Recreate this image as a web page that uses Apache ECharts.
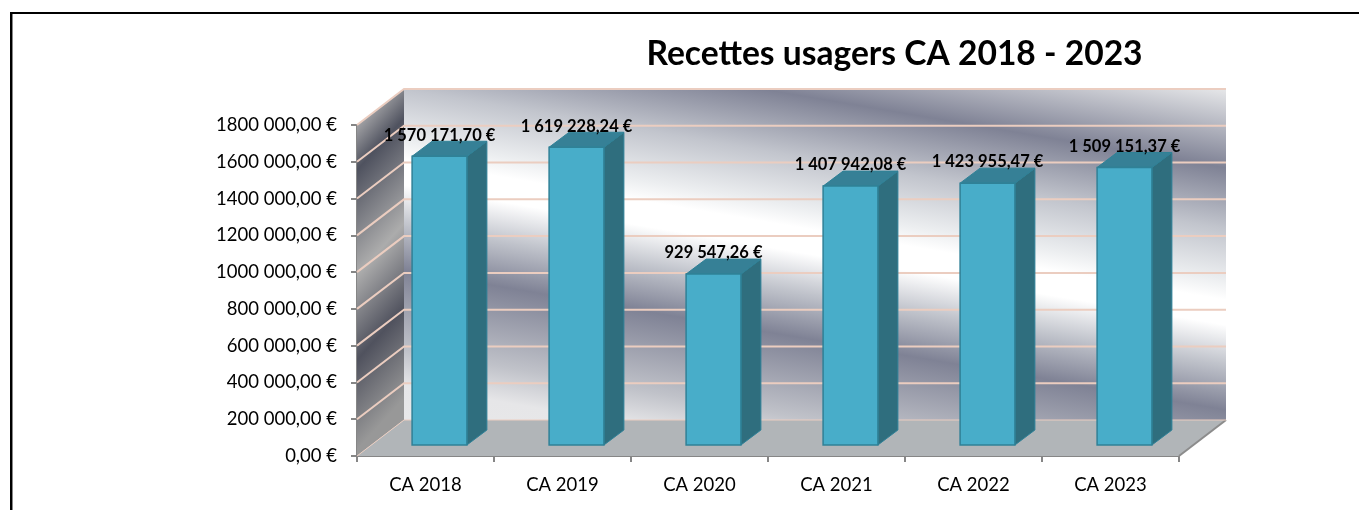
<!DOCTYPE html>
<html>
<head>
<meta charset="utf-8">
<title>Recettes usagers CA 2018 - 2023</title>
<script src="https://cdn.jsdelivr.net/npm/echarts@6/dist/echarts.min.js"></script>
<style>
html, body { margin: 0; padding: 0; background: #fff; }
#chart { width: 1359px; height: 510px; }
</style>
</head>
<body>
<div id="chart"></div>
<script>
const categories = ['CA 2018', 'CA 2019', 'CA 2020', 'CA 2021', 'CA 2022', 'CA 2023'];
const recettes = [1570171.70, 1619228.24, 929547.26, 1407942.08, 1423955.47, 1509151.37];
const valueLabels = ['1 570 171,70 €', '1 619 228,24 €', '929 547,26 €', '1 407 942,08 €', '1 423 955,47 €', '1 509 151,37 €'];
const tickValues = [0, 200000, 400000, 600000, 800000, 1000000, 1200000, 1400000, 1600000, 1800000];
const tickLabels = ['0,00 €', '200 000,00 €', '400 000,00 €', '600 000,00 €', '800 000,00 €', '1000 000,00 €', '1200 000,00 €', '1400 000,00 €', '1600 000,00 €', '1800 000,00 €'];

const FONT = 'Lato, "Open Sans", sans-serif';
// profondeur du faux 3D (mur du fond et barres)
const WALL_DX = 47;
const WALL_DY = 36;
const BAR_DX = 14;
const BAR_DY = 11;
const SIDE_DX = 20;
const SIDE_DY = 15;

const chart = echarts.init(document.getElementById('chart'));

// t = y - slope * (x - x0) + tMin, stops donnes en pixels de t
function bandGradient(x0, y0, slope, tMin, tMax, stops) {
    const k = (tMax - tMin) / (1 + slope * slope);
    return new echarts.graphic.LinearGradient(
        x0, y0, x0 - slope * k, y0 + k,
        stops.map(s => ({ offset: (s[0] - tMin) / (tMax - tMin), color: s[1] })),
        true
    );
}

function renderWalls(params, api) {
    const band = api.size([1, 0])[0];
    const left = api.coord([0, 0])[0] - band / 2;
    const right = api.coord([categories.length - 1, 0])[0] + band / 2;
    const bottom = api.coord([0, 0])[1];
    const top = api.coord([0, tickValues[tickValues.length - 1]])[1];
    const children = [];

    // mur du fond
    children.push({
        type: 'rect',
        shape: { x: left + WALL_DX, y: top - WALL_DY, width: right - left, height: bottom - top },
        style: {
            fill: bandGradient(right + WALL_DX, top - WALL_DY, 0.17, -51, 420, [
                [-51, '#e6e7e9'], [28, '#7f8295'], [89, '#c2c5cd'], [140, '#eceef0'],
                [160, '#ffffff'], [185, '#ffffff'], [225, '#c0c3cb'], [270, '#7f8295'],
                [350, '#c0c2c9'], [385, '#e6e6e8'], [420, '#e8e8e9']
            ])
        }
    });
    // mur de gauche
    children.push({
        type: 'polygon',
        shape: { points: [[left, bottom], [left + WALL_DX, bottom - WALL_DY], [left + WALL_DX, top - WALL_DY], [left, top]] },
        style: {
            fill: bandGradient(left, top - 5, -1.1, 120, 475, [
                [120, '#ababad'], [170, '#4f525f'], [275, '#acacac'], [360, '#50525e'], [450, '#989898'], [475, '#989898']
            ])
        }
    });
    // sol
    children.push({
        type: 'polygon',
        shape: { points: [[left, bottom], [left + WALL_DX, bottom - WALL_DY], [right + WALL_DX, bottom - WALL_DY], [right, bottom]] },
        style: { fill: '#b1b5b8' }
    });
    // bord droit du sol
    children.push({
        type: 'line',
        shape: { x1: right, y1: bottom, x2: right + WALL_DX, y2: bottom - WALL_DY },
        style: { stroke: '#8c8c8c', lineWidth: 2 }
    });
    // lignes de grille, mur de gauche puis mur du fond
    tickValues.forEach(t => {
        const y = api.coord([0, t])[1];
        const w = t === 0 ? 1 : 2;
        children.push({
            type: 'polyline',
            shape: { points: [[left, y], [left + WALL_DX, y - WALL_DY], [right + WALL_DX, y - WALL_DY]] },
            style: { stroke: '#ebcdc0', lineWidth: w, fill: 'none' }
        });
    });
    return { type: 'group', children };
}

function renderBar(params, api) {
    const i = api.value(0);
    const band = api.size([1, 0])[0];
    const w = band * 0.4;
    const base = api.coord([i, 0]);
    const head = api.coord([i, api.value(1)]);
    const x0 = base[0] + BAR_DX - w / 2;
    const x1 = x0 + w;
    const yTop = head[1] - BAR_DY;
    const yBot = base[1] - BAR_DY;
    return {
        type: 'group',
        children: [
            {
                type: 'polygon',
                shape: { points: [[x1, yTop], [x1 + SIDE_DX, yTop - SIDE_DY], [x1 + SIDE_DX, yBot - SIDE_DY], [x1, yBot]] },
                style: { fill: '#2f6e7e', stroke: '#2f8197', lineWidth: 1 }
            },
            {
                type: 'polygon',
                shape: { points: [[x0, yTop], [x0 + SIDE_DX, yTop - SIDE_DY], [x1 + SIDE_DX, yTop - SIDE_DY], [x1, yTop]] },
                style: { fill: '#368096', stroke: '#2f8197', lineWidth: 1 }
            },
            {
                type: 'rect',
                shape: { x: x0, y: yTop, width: w, height: yBot - yTop },
                style: { fill: '#48adc9', stroke: '#2f8197', lineWidth: 1.5 }
            },
            {
                type: 'text',
                x: x0 + w / 2,
                y: yTop - 21,
                z2: 10,
                style: {
                    text: valueLabels[i],
                    align: 'center',
                    verticalAlign: 'middle',
                    font: 'bold 16.5px ' + FONT,
                    fill: '#000'
                }
            }
        ]
    };
}

const option = {
    animation: false,
    backgroundColor: '#fff',
    title: {
        text: 'Recettes usagers CA 2018 - 2023',
        left: 889.5,
        top: 32,
        textAlign: 'center',
        textStyle: { fontFamily: FONT, fontSize: 33.6, fontWeight: 'bold', color: '#000' }
    },
    // cadre du graphique, coupe a droite et en bas
    graphic: [
        { type: 'polyline', shape: { points: [[12.5, 510], [12.5, 14]] }, style: { stroke: '#888', lineWidth: 1, fill: 'none' } },
        { type: 'polyline', shape: { points: [[11, 510], [11, 13], [1359, 13]] }, style: { stroke: '#000', lineWidth: 2, fill: 'none' } }
    ],
    grid: { left: 357, top: 125, width: 822, height: 331 },
    xAxis: {
        type: 'category',
        data: categories,
        axisLine: { lineStyle: { color: '#868686', width: 2 } },
        axisTick: { show: true, alignWithLabel: false, length: 6, lineStyle: { color: '#868686', width: 2 } },
        axisLabel: { fontFamily: FONT, fontSize: 18.5, color: '#000', margin: 20, interval: 0 }
    },
    yAxis: {
        type: 'value',
        min: 0,
        max: 1800000,
        interval: 200000,
        axisLine: { show: true, lineStyle: { color: '#868686', width: 2 } },
        axisTick: { show: true, length: 6, lineStyle: { color: '#868686', width: 2 } },
        axisLabel: {
            fontFamily: FONT,
            fontSize: 18.5,
            color: '#000',
            margin: 20,
            padding: [6, 0, 0, 0],
            formatter: v => tickLabels[tickValues.indexOf(v)]
        },
        splitLine: { show: false }
    },
    series: [
        { type: 'custom', z: 1, silent: true, clip: false, renderItem: renderWalls, data: [[0, 0]] },
        {
            type: 'custom',
            z: 3,
            clip: false,
            renderItem: renderBar,
            encode: { x: 0, y: 1 },
            data: recettes.map((v, i) => [i, v])
        }
    ]
};

chart.setOption(option);
</script>
</body>
</html>
